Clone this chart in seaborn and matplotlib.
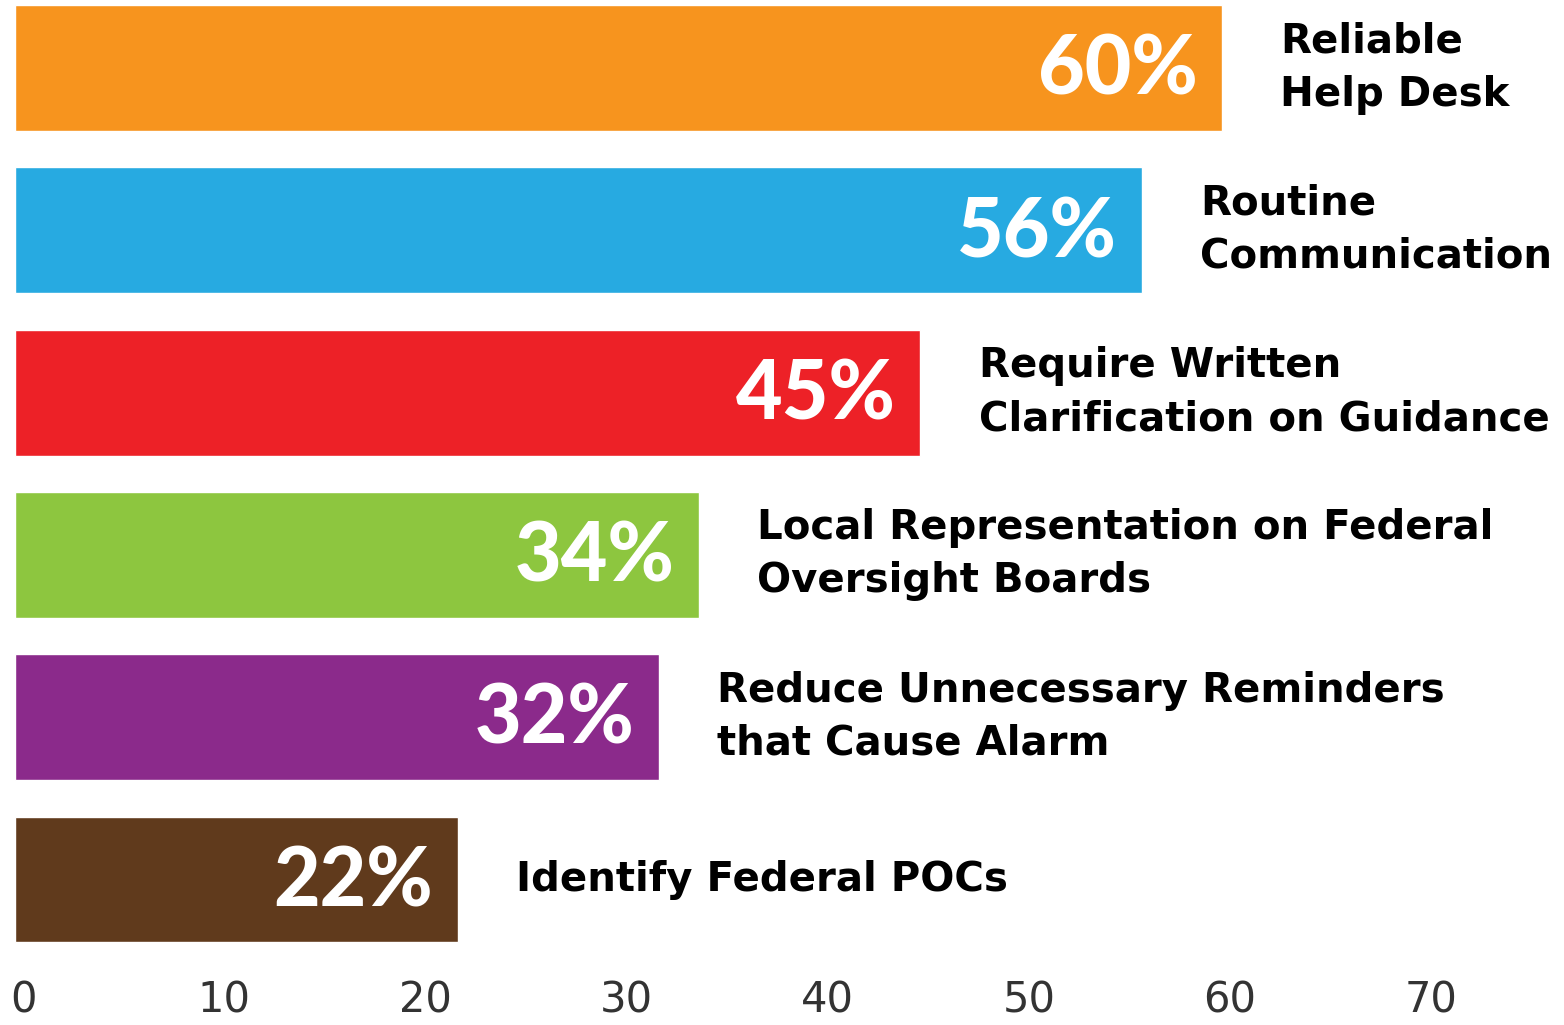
import pandas as pd
import matplotlib.pyplot as plt
import matplotlib.transforms as mtransforms
import seaborn as sns

sns.set_style("white")

# === DATA ===
categories = [
    "Reliable\nHelp Desk",
    "Routine\nCommunication",
    "Require Written\nClarification on Guidance",
    "Local Representation on Federal\nOversight Boards",
    "Reduce Unnecessary Reminders\nthat Cause Alarm",
    "Identify Federal POCs",
]
values = [60, 56, 45, 34, 32, 22]
colors = ["#F7941E", "#27AAE1", "#ED2127", "#8DC63F", "#8B2A8B", "#603A1C"]
xticks = [0, 10, 20, 30, 40, 50, 60, 70]

df = pd.DataFrame({"Category": categories, "Value": values})

fig = plt.figure(figsize=(15.64, 10.25), dpi=100)
ax = fig.add_axes([0.0096, 0.0634, 0.9904, 0.9366])

sns.barplot(data=df, y="Category", x="Value", hue="Category", palette=colors,
            orient="h", width=0.776, legend=False, ax=ax, saturation=1)

ax.set_xlim(0, 77.0)
ax.set_ylim(5.496, -0.419)

# Value labels inside bars, category labels to the right
for i, (cat, val) in enumerate(zip(categories, values)):
    ax.text(val - 1.2, i + 0.02, f"{val}%", ha="right", va="center", color="white",
            fontsize=58, fontweight="black", family=["Lato", "DejaVu Sans"])
    ax.text(val + 2.9, i, cat, ha="left", va="center", color="black",
            fontsize=29, fontweight="bold", linespacing=1.42,
            family=["DejaVu Sans"])

ax.set_xticks(xticks)
ax.set_xticklabels([str(t) for t in xticks], fontsize=30, color="#333333",
                   family=["Liberation Sans Narrow", "DejaVu Sans"])
ax.tick_params(axis="x", length=0, pad=14)
# nudge tick labels slightly right, as in the original
offset = mtransforms.ScaledTranslation(0.08, 0, fig.dpi_scale_trans)
for lab in ax.get_xticklabels():
    lab.set_transform(lab.get_transform() + offset)
ax.set_yticks([])
ax.set_xlabel("")
ax.set_ylabel("")
sns.despine(ax=ax, left=True, bottom=True)

plt.savefig("out.png", dpi=100)
